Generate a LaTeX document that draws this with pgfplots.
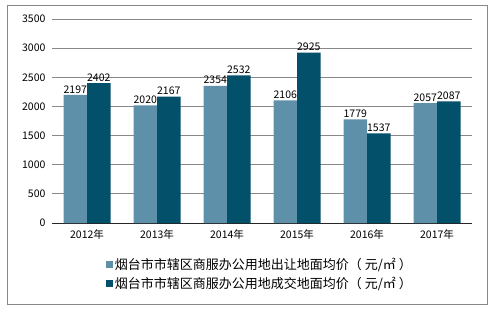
\documentclass[border=0pt]{standalone}
\usepackage{pgfplots}
\pgfplotsset{compat=1.18}
\usepackage{fontspec}
\setmainfont{Noto Sans CJK SC}
\definecolor{lightbar}{HTML}{5E91A9}
\definecolor{darkbar}{HTML}{03506A}
\definecolor{framegray}{HTML}{888888}
\begin{document}
\begin{tikzpicture}[x=1pt,y=1pt]
\useasboundingbox (0,0) rectangle (495,309);
\draw[framegray, line width=1pt] (7,4.5) rectangle (487,304);
\begin{axis}[
  at={(52pt,86pt)}, anchor=south west,
  scale only axis, width=420pt, height=204pt,
  xmin=-0.5, xmax=5.5, ymin=0, ymax=3500,
  ytick={0,500,...,3500},
  xtick=data,
  xticklabels={2012年,2013年,2014年,2015年,2016年,2017年},
  /pgf/number format/assume math mode=true,
  /pgf/number format/1000 sep={},
  ymajorgrids, grid style={framegray, line width=0.8pt},
  axis x line*=bottom, axis y line*=left,
  y axis line style={draw=none},
  x axis line style={black!85, line width=0.9pt, -},
  major tick length=0pt,
  tick label style={font=\fontsize{10.5}{12}\selectfont, black},
  yticklabel style={xshift=-3pt},
  xticklabel style={yshift=-3pt},
  ybar=0pt, bar width=23.5pt,
  nodes near coords,
  every node near coord/.append style={font=\fontsize{10.5}{12}\selectfont, black, inner sep=1.5pt},
  legend style={at={(0.128,-0.16)}, anchor=north west, draw=none, font=\fontsize{13}{15}\selectfont, legend cell align=left, row sep=2.5pt, inner sep=0pt},
  legend image code/.code={\fill[#1] (0pt,-3.5pt) rectangle (7pt,3.5pt);},
]
\addplot[fill=lightbar, draw=none] coordinates {(0,2197) (1,2020) (2,2354) (3,2106) (4,1779) (5,2057)};
\addplot[fill=darkbar, draw=none] coordinates {(0,2402) (1,2167) (2,2532) (3,2925) (4,1537) (5,2087)};
\legend{烟台市市辖区商服办公用地出让地面均价（ 元/㎡ ）, 烟台市市辖区商服办公用地成交地面均价（ 元/㎡ ）}
\end{axis}
\end{tikzpicture}
\end{document}
